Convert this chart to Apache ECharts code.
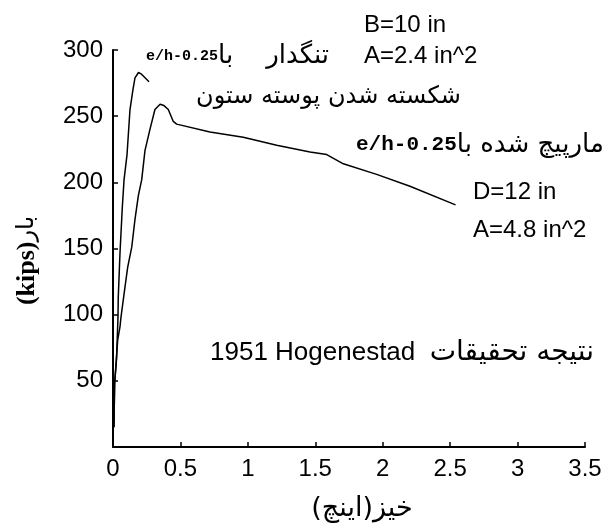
<!DOCTYPE html>
<html>
<head>
<meta charset="utf-8">
<script src="https://cdn.jsdelivr.net/npm/echarts@6/dist/echarts.min.js"></script>
<style>
  html, body { margin: 0; padding: 0; background: #fff; }
  #chart { width: 610px; height: 527px; }
</style>
</head>
<body>
<div id="chart"></div>
<script>
// Tied column (e/h = 0.25) - deflection (in) and load (kips)
const tiedDeflection = [0.007, 0.012, 0.026, 0.037, 0.039, 0.052, 0.069, 0.082, 0.104, 0.126, 0.148, 0.163, 0.189, 0.208, 0.267]
const tiedLoad = [15, 48, 66, 98, 113, 147, 181, 202, 221, 255, 270, 279, 283, 282, 276]

// Spiral column (e/h = 0.25)
const spiralDeflection = [0.007, 0.012, 0.035, 0.052, 0.059, 0.076, 0.089, 0.109, 0.139, 0.163, 0.188, 0.213, 0.237, 0.274, 0.311, 0.349, 0.378, 0.41, 0.447, 0.472, 0.719, 0.966, 1.214, 1.461, 1.585, 1.708, 1.955, 2.202, 2.54]
const spiralLoad = [15, 48, 81, 91, 98, 111, 121, 136, 151, 172, 190, 202, 224, 240, 255, 259, 258, 255, 246, 244, 238, 234, 228, 223, 221, 214, 206, 197, 183]

const LATIN = 'Liberation Sans, Arial, sans-serif'
const ARABIC = 'DejaVu Sans, sans-serif'
const SLAB = 'Liberation Mono, Courier New, monospace'

function pairs(xs, ys) {
  return xs.map((x, i) => [x, ys[i]])
}

// plain label helper for the graphic layer
function label(x, y, text, rich) {
  return {
    type: 'text',
    x: x,
    y: y,
    style: {
      text: text,
      fill: '#000',
      font: '24px ' + LATIN,
      verticalAlign: 'middle',
      rich: rich
    }
  }
}

const richBase = {
  a: { fontFamily: ARABIC, fontSize: 24, color: '#000' },
  A: { fontFamily: ARABIC, fontSize: 26, color: '#000' },
  s: { fontFamily: SLAB, fontSize: 15, fontWeight: 'bold', color: '#000' },
  S: { fontFamily: SLAB, fontSize: 21, fontWeight: 'bold', color: '#000' },
  H: { fontFamily: LATIN, fontSize: 26, color: '#000' }
}

const chart = echarts.init(document.getElementById('chart'), null, { renderer: 'canvas' })

chart.setOption({
  animation: false,
  backgroundColor: '#fff',
  grid: { left: 113, right: 25, top: 50, bottom: 80, containLabel: false },
  xAxis: {
    type: 'value',
    min: 0,
    max: 3.5,
    interval: 0.5,
    name: 'خیز(اینچ)\u200F',
    nameLocation: 'middle',
    nameGap: 48,
    nameTextStyle: { fontFamily: ARABIC, fontSize: 27, color: '#000', padding: [0, 0, 0, 26] },
    axisLine: { lineStyle: { color: '#000', width: 2 } },
    axisTick: { inside: true, length: 5, lineStyle: { color: '#000', width: 1.5 } },
    axisLabel: { color: '#000', fontFamily: LATIN, fontSize: 24, margin: 10 },
    splitLine: { show: false }
  },
  yAxis: {
    type: 'value',
    min: 0,
    max: 300,
    interval: 50,
    name: '{k|(kips)}{a|بار}',
    nameLocation: 'middle',
    nameGap: 73,
    nameTextStyle: {
      padding: [0, 24, 0, 0],
      rich: {
        k: { fontFamily: 'Liberation Serif, serif', fontWeight: 'bold', fontSize: 26, color: '#000' },
        a: { fontFamily: ARABIC, fontSize: 24, color: '#000' }
      }
    },
    axisLine: { show: true, lineStyle: { color: '#000', width: 2 } },
    axisTick: { show: true, inside: true, length: 5, lineStyle: { color: '#000', width: 1.5 } },
    axisLabel: { color: '#000', fontFamily: LATIN, fontSize: 24, margin: 10, showMinLabel: false },
    splitLine: { show: false }
  },
  series: [
    {
      name: 'tied',
      type: 'line',
      data: pairs(tiedDeflection, tiedLoad),
      showSymbol: false,
      lineStyle: { color: '#000', width: 1.5 }
    },
    {
      name: 'spiral',
      type: 'line',
      data: pairs(spiralDeflection, spiralLoad),
      showSymbol: false,
      lineStyle: { color: '#000', width: 1.5 }
    }
  ],
  graphic: [
    label(364, 25, 'B=10 in'),
    label(146, 56, '{s|e/h-0.25}{A|تنگدار    با}', richBase),
    label(364, 56, 'A=2.4 in^2'),
    label(196, 97, '{a|شکسته شدن پوسته ستون}', richBase),
    label(356, 145, '{S|e/h-0.25}{A|مارپیچ شده با}', richBase),
    label(473, 192, 'D=12 in'),
    label(473, 230, 'A=4.8 in^2'),
    label(210, 353, '{H|1951 Hogenestad  }{A|نتیجه تحقیقات}', Object.assign({}, richBase, {
      A: { fontFamily: ARABIC, fontSize: 28, color: '#000' }
    }))
  ]
})
</script>
</body>
</html>
